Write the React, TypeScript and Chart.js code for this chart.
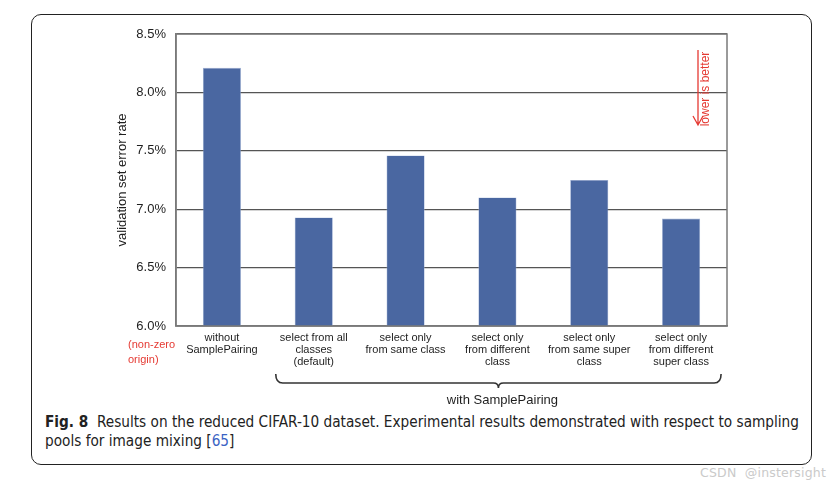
import React, { useEffect, useRef } from "react";
import { Chart, registerables } from "chart.js";

Chart.register(...registerables);

const categories: string[][] = [
  ["without", "SamplePairing"],
  ["select from all", "classes", "(default)"],
  ["select only", "from same class"],
  ["select only", "from different", "class"],
  ["select only", "from same super", "class"],
  ["select only", "from different", "super class"],
];
const errorRates: number[] = [8.21, 6.93, 7.46, 7.1, 7.25, 6.92];
const yMin = 6.0;
const yMax = 8.5;
const yStep = 0.5;
const originNote: string[] = ["(non-zero", "origin)"];
const groupLabel = "with SamplePairing";
const betterNote = "lower is better";
const yTitle = "validation set error rate";

const FONT = "'Liberation Sans', Arial, Helvetica, sans-serif";
const RED = "#e53a33";

const annotations = {
  id: "annotations",
  afterDraw(chart: any) {
    const { ctx, chartArea: a, scales } = chart;
    const x = scales.x;
    ctx.save();
    // plot frame
    ctx.strokeStyle = "#7a7a7a";
    ctx.lineWidth = 1.5;
    ctx.strokeRect(a.left, a.top, a.right - a.left, a.bottom - a.top);

    // non-zero origin note
    ctx.fillStyle = RED;
    ctx.font = `11px ${FONT}`;
    ctx.textAlign = "left";
    ctx.textBaseline = "middle";
    ctx.fillText(originNote[0], a.left - 48, a.bottom + 19);
    ctx.fillText(originNote[1], a.left - 48, a.bottom + 34);

    // brace under the SamplePairing group
    const L = x.getPixelForValue(1) - 38;
    const R = x.getPixelForValue(5) + 40;
    const C = (L + R) / 2;
    const top = a.bottom + 48;
    const yl = a.bottom + 57;
    const r = 7;
    ctx.strokeStyle = "#333";
    ctx.lineWidth = 1.6;
    ctx.beginPath();
    ctx.moveTo(L, top);
    ctx.quadraticCurveTo(L, yl, L + r, yl);
    ctx.lineTo(C - 5, yl);
    ctx.quadraticCurveTo(C, yl, C, yl + 5);
    ctx.quadraticCurveTo(C, yl, C + 5, yl);
    ctx.lineTo(R - r, yl);
    ctx.quadraticCurveTo(R, yl, R, top);
    ctx.stroke();

    ctx.fillStyle = "#1e1e1e";
    ctx.font = `13px ${FONT}`;
    ctx.textAlign = "center";
    ctx.fillText(groupLabel, C + 4, a.bottom + 74);

    // lower is better arrow
    const ax = a.right - 29;
    ctx.strokeStyle = RED;
    ctx.lineWidth = 1.3;
    ctx.beginPath();
    ctx.moveTo(ax, a.top + 16);
    ctx.lineTo(ax, a.top + 91);
    ctx.moveTo(ax - 5, a.top + 82);
    ctx.lineTo(ax, a.top + 91);
    ctx.lineTo(ax + 5, a.top + 82);
    ctx.stroke();
    ctx.translate(ax + 8, a.top + 55);
    ctx.rotate(-Math.PI / 2);
    ctx.fillStyle = RED;
    ctx.font = `12px ${FONT}`;
    ctx.textAlign = "center";
    ctx.textBaseline = "middle";
    ctx.fillText(betterNote, 0, 0);
    ctx.restore();
  },
};

export default function App() {
  const ref = useRef<HTMLCanvasElement | null>(null);
  useEffect(() => {
    if (!ref.current) return;
    const chart = new Chart(ref.current, {
      type: "bar",
      data: {
        labels: categories,
        datasets: [
          {
            data: errorRates,
            backgroundColor: "#4a67a1",
            borderColor: "#9fb2d6",
            borderWidth: 0.6,
            barPercentage: 0.415,
            categoryPercentage: 1,
          },
        ],
      },
      options: {
        animation: false,
        responsive: false,
        devicePixelRatio: 1,
        layout: { padding: { left: 0, top: 34, right: 110, bottom: 0 } },
        plugins: { legend: { display: false }, tooltip: { enabled: false } },
        scales: {
          x: {
            grid: { display: false, drawTicks: false },
            border: { display: true, color: "#7a7a7a", width: 1.5 },
            ticks: {
              color: "#1e1e1e",
              font: { family: FONT, size: 11, lineHeight: 1.1 },
              padding: 6,
              maxRotation: 0,
              autoSkip: false,
            },
            afterFit(scale: any) {
              scale.height = 84;
            },
          },
          y: {
            min: yMin,
            max: yMax,
            grid: { color: "#555", lineWidth: 1.2, drawTicks: false },
            border: { display: true, color: "#7a7a7a", width: 1.5 },
            ticks: {
              stepSize: yStep,
              color: "#1e1e1e",
              font: { family: FONT, size: 13 },
              padding: 10,
              callback: (v: any) => Number(v).toFixed(1) + "%",
            },
            title: {
              display: true,
              text: yTitle,
              color: "#1e1e1e",
              font: { family: FONT, size: 13 },
              padding: { top: 115, bottom: 0 },
            },
            afterFit(scale: any) {
              scale.width = 176;
            },
          },
        },
      },
      plugins: [annotations],
    });
    return () => chart.destroy();
  }, []);

  return (
    <div
      style={{
        position: "fixed",
        left: 0,
        top: 0,
        width: 837,
        height: 489,
        background: "#fff",
        overflow: "hidden",
      }}
    >
      <div
        style={{
          position: "absolute",
          left: 31,
          top: 14,
          width: 781,
          height: 451,
          boxSizing: "border-box",
          border: "1.5px solid #222",
          borderRadius: 10,
        }}
      />
      <canvas
        ref={ref}
        width={837}
        height={410}
        style={{ position: "absolute", left: 0, top: 0, width: 837, height: 410 }}
      />
      <div
        style={{
          position: "absolute",
          left: 45,
          top: 413,
          fontFamily: "'DejaVu Sans Condensed', 'DejaVu Sans', sans-serif",
          fontStretch: "condensed",
          fontSize: 15.2,
          lineHeight: "19px",
          color: "#222",
          whiteSpace: "nowrap",
        }}
      >
        <div>
          <b>Fig. 8</b>&nbsp; Results on the reduced CIFAR-10 dataset. Experimental results demonstrated with respect to sampling
        </div>
        <div>
          pools for image mixing [<span style={{ color: "#3a63c4" }}>65</span>]
        </div>
      </div>
      <div
        style={{
          position: "absolute",
          left: 700,
          top: 465,
          fontFamily: "'DejaVu Sans', sans-serif",
          fontSize: 12.5,
          lineHeight: "16px",
          letterSpacing: "0.2px",
          color: "#cacaca",
          whiteSpace: "nowrap",
        }}
      >
        CSDN&nbsp; @instersight
      </div>
    </div>
  );
}
